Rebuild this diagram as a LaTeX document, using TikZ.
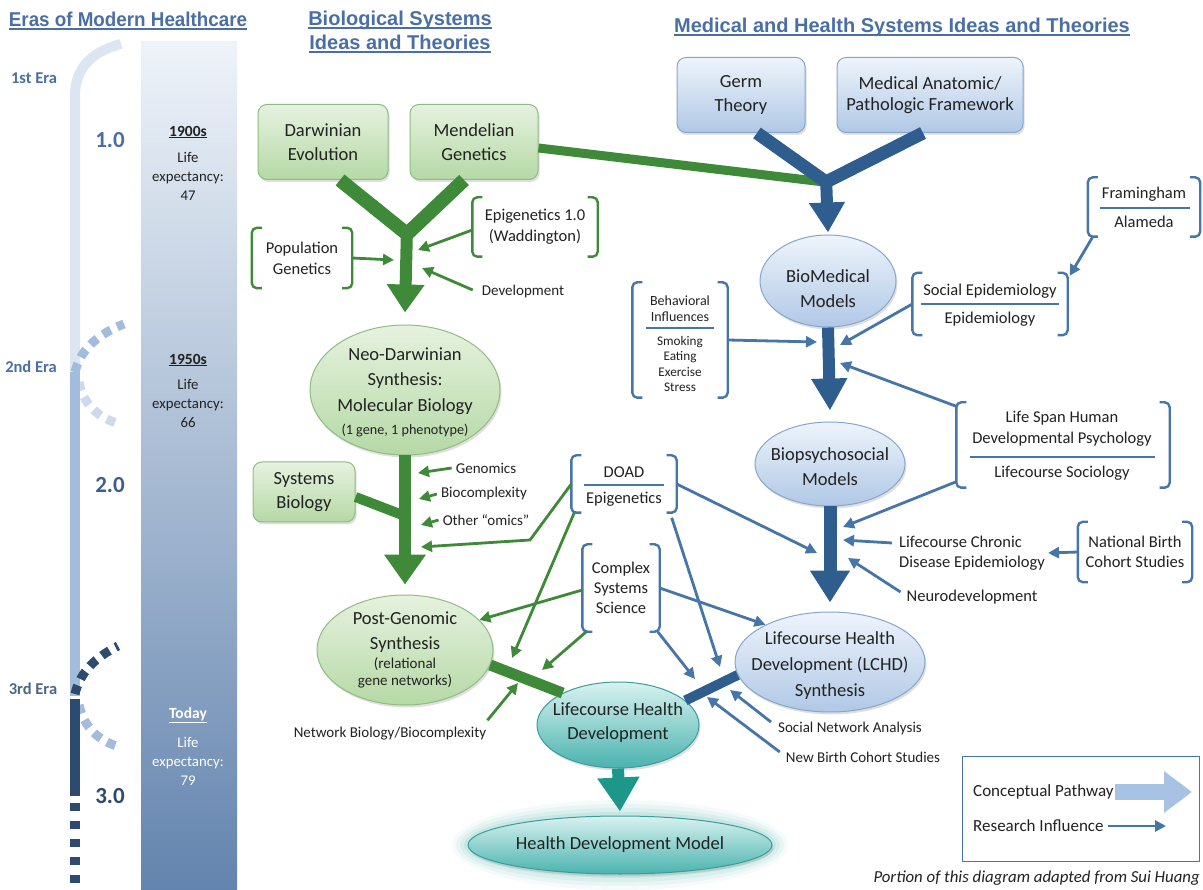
\documentclass[tikz,border=0pt]{standalone}
\usepackage{fontspec}
\setmainfont{Carlito}
\newfontfamily\hfont{Liberation Sans}
\usetikzlibrary{arrows.meta,shapes.geometric,shadows}
\definecolor{txt}{HTML}{222222}
\definecolor{hdr}{HTML}{4A6FA5}
\definecolor{gA}{HTML}{3E8A38}
\definecolor{gT}{HTML}{E6F2DF}
\definecolor{gB}{HTML}{B5D9A5}
\definecolor{gD}{HTML}{8FBC82}
\definecolor{bT}{HTML}{EEF4FB}
\definecolor{bB}{HTML}{B0C8E6}
\definecolor{bD}{HTML}{86A6CE}
\definecolor{bA}{HTML}{2E5D8E}
\definecolor{bL}{HTML}{4676A8}
\definecolor{tT}{HTML}{D8F2F0}
\definecolor{tB}{HTML}{4AB3AE}
\definecolor{tD}{HTML}{3B9D99}
\definecolor{tA}{HTML}{1E978B}
\definecolor{eraA}{HTML}{DCE6F2}
\definecolor{eraB}{HTML}{A3BCDD}
\definecolor{eraL}{HTML}{CCDAEC}
\definecolor{eraC}{HTML}{2D4B6E}
\definecolor{colT}{HTML}{EEF3F9}
\definecolor{colM}{HTML}{B3C6DE}
\definecolor{colB}{HTML}{6384AE}
\definecolor{legA}{HTML}{A8C2E3}
\newcommand{\bracketpair}[2]{%
  \draw[#2, line width=2.4pt, rounded corners=5pt] ([xshift=10pt]#1.north west) -- (#1.north west) -- (#1.south west) -- ([xshift=10pt]#1.south west);
  \draw[#2, line width=2.4pt, rounded corners=5pt] ([xshift=-10pt]#1.north east) -- (#1.north east) -- (#1.south east) -- ([xshift=-10pt]#1.south east);}
\tikzset{
  fbig/.style={font=\fontsize{18.5}{24}\selectfont},
  fmed/.style={font=\fontsize{16.5}{21}\selectfont},
  fsm/.style={font=\fontsize{15}{18}\selectfont},
  ftiny/.style={font=\fontsize{13.2}{15.3}\selectfont},
  lbl/.style={text=txt, align=center, inner sep=1pt},
  shad/.style={drop shadow={opacity=0.25, shadow xshift=1.5pt, shadow yshift=-2.5pt}},
  gbox/.style={rectangle, rounded corners=9pt, draw=gD, line width=1pt, top color=gT, bottom color=gB, shad, fbig, lbl},
  bbox/.style={rectangle, rounded corners=9pt, draw=bD, line width=1pt, top color=bT, bottom color=bB, shad, fbig, lbl},
  gell/.style={ellipse, draw=gD, line width=1pt, top color=gT, bottom color=gB, shad, inner sep=0pt},
  bell/.style={ellipse, draw=bD, line width=1pt, top color=bT, bottom color=bB, shad, inner sep=0pt},
  tell/.style={ellipse, draw=tD, line width=1pt, top color=tT, bottom color=tB, shad, inner sep=0pt},
  frame/.style={inner sep=0pt, lbl},
  gthick/.style={draw=gA, line width=13pt},
  bthick/.style={draw=bA, line width=12pt},
  gthin/.style={draw=gA, line width=2.8pt, -{Triangle[length=11pt,width=11pt]}},
  bthin/.style={draw=bL, line width=2.8pt, -{Triangle[length=11pt,width=11pt]}},
  hdrs/.style={font=\hfont\bfseries\fontsize{20}{22}\selectfont, text=hdr, inner sep=0pt},
  era/.style={font=\bfseries\fontsize{16.5}{18}\selectfont, text=hdr, inner sep=0pt},
  num/.style={font=\bfseries\fontsize{23}{26}\selectfont, inner sep=0pt},
  colt/.style={font=\fontsize{14.8}{19}\selectfont, text=txt, align=center, inner sep=0pt},
  colh/.style={font=\bfseries\fontsize{15.5}{19}\selectfont, text=txt, align=center, inner sep=0pt},
}
\begin{document}
\begin{tikzpicture}[x=1pt,y=-1pt]
\useasboundingbox (0,0) rectangle (1203,890);
\fill[white] (0,0) rectangle (1203,890);

% ---------- headers ----------
\node[hdrs] (h1) at (128,19) {\scalebox{0.94}[1]{Eras of Modern Healthcare}};
\node[hdrs] (h2) at (400,20) {Biological Systems};
\node[hdrs] (h3) at (400,42) {Ideas and Theories};
\node[hdrs] (h4) at (902,27) {Medical and Health Systems Ideas and Theories};
\foreach \h in {h1,h2,h3,h4}{\draw[hdr, line width=1.8pt] ([yshift=-3pt]\h.base west) -- ([yshift=-3pt]\h.base east);}

% ---------- eras column ----------
\shade[top color=colT, middle color=colM, bottom color=colB] (141,42) rectangle (237,890);
\draw[eraA, line width=10pt] (121,44) .. controls (90,52) and (75,70) .. (75,95) -- (75,372);
\draw[eraB, line width=9pt, dash pattern=on 9pt off 7pt] (75,372) .. controls (80,350) and (98,334) .. (124,324);
\draw[eraL, line width=9pt, dash pattern=on 9pt off 7pt] (79,382) .. controls (83,404) and (98,418) .. (120,424);
\draw[eraB, line width=10pt] (75,372) -- (75,696);
\draw[eraC, line width=9pt, dash pattern=on 9pt off 7pt] (75,694) .. controls (80,672) and (96,657) .. (118,646);
\draw[eraB, line width=9pt, dash pattern=on 9pt off 7pt] (79,705) .. controls (84,727) and (98,741) .. (120,747);
\draw[eraC, line width=10pt] (75,699) -- (75,796);
\draw[eraC, line width=10pt, dash pattern=on 8pt off 10pt] (75,803) -- (75,890);
\node[era] (e1) at (34,78) {1st Era};
\node[era] (e2) at (31,367) {2nd Era};
\node[era, text=eraC!85] (e3) at (33,689) {3rd Era};
\node[num, text=hdr] (n1) at (110,140) {1.0};
\node[num, text=hdr!85!black] (n2) at (110,485) {2.0};
\node[num, text=eraC] (n3) at (110,796) {3.0};
\node[colh] (y1) at (188,132) {\underline{1900s}};
\node[colt] (l1) at (188,176) {Life\\expectancy:\\47};
\node[colh] (y2) at (188,360) {\underline{1950s}};
\node[colt] (l2) at (188,403) {Life\\expectancy:\\66};
\node[colh, text=white] (y3) at (188,715) {\underline{Today}};
\node[colt, text=white] (l3) at (188,761) {Life\\expectancy:\\79};

% ---------- biological nodes ----------
\node[gbox, minimum width=130pt, minimum height=75pt] (darwin) at (323,142) {Darwinian\\Evolution};
\node[gbox, minimum width=128pt, minimum height=75pt] (mendel) at (474,142) {Mendelian\\Genetics};
\node[gbox, minimum width=102pt, minimum height=60pt] (sysbio) at (304,492) {Systems\\Biology};
\node[gell, minimum width=190pt, minimum height=130pt] (neo) at (405,390) {};
\node[lbl, font=\fontsize{18.5}{25.5}\selectfont] (neoT) at (405,381) {Neo-Darwinian\\Synthesis:\\Molecular Biology};
\node[lbl, font=\fontsize{14.2}{16}\selectfont] (neoS) at (405,431) {(1 gene, 1 phenotype)};
\node[gell, minimum width=176pt, minimum height=110pt] (post) at (405,650) {};
\node[lbl, font=\fontsize{18.5}{25}\selectfont] (postT) at (405,632) {Post-Genomic\\Synthesis};
\node[lbl, font=\fontsize{15}{17}\selectfont] (postS) at (405,673) {(relational\\gene networks)};

% green brackets
\node[frame, fmed, minimum width=100pt, minimum height=60pt] (popgen) at (302,258) {Population\\Genetics};
\bracketpair{popgen}{gA}
\node[frame, fmed, minimum width=125pt, minimum height=59pt] (epi1) at (535,227) {Epigenetics 1.0\\(Waddington)};
\bracketpair{epi1}{gA}
\node[lbl, fsm] (dev) at (523,292) {Development};
\node[lbl, fsm] (genom) at (486,468) {Genomics};
\node[lbl, fsm] (bioc) at (484,494) {Biocomplexity};
\node[lbl, fsm] (omics) at (486,520) {Other ``omics''};
\node[lbl, fsm] (netb) at (390,734) {Network Biology/Biocomplexity};

% blue brackets in the middle
\node[frame, minimum width=105pt, minimum height=57pt] (doad) at (624,484) {};
\bracketpair{doad}{bL}
\node[lbl, fmed] (doadA) at (624,472) {DOAD};
\node[lbl, fmed] (doadB) at (624,499) {Epigenetics};
\draw[bL, line width=1.8pt] (584,485) -- (664,485);
\node[frame, font=\fontsize{16.5}{20}\selectfont, minimum width=77pt, minimum height=87pt] (cplx) at (621,588) {Complex\\Systems\\Science};
\bracketpair{cplx}{bL}

% ---------- medical nodes ----------
\node[bbox, minimum width=128pt, minimum height=75pt] (germ) at (741,95) {Germ\\Theory};
\node[bbox, font=\fontsize{18.5}{21}\selectfont, minimum width=186pt, minimum height=75pt] (medic) at (930,95) {Medical Anatomic/\\Pathologic Framework};
\node[bell, minimum width=136pt, minimum height=92pt] (biomed) at (828,281) {};
\node[lbl, font=\fontsize{18.5}{25}\selectfont] (biomedT) at (828,289) {BioMedical\\Models};
\node[bell, minimum width=150pt, minimum height=84pt] (biopsy) at (830,464) {};
\node[lbl, font=\fontsize{18.5}{25}\selectfont] (biopsyT) at (830,467) {Biopsychosocial\\Models};
\node[bell, minimum width=190pt, minimum height=100pt] (lchd) at (830,662) {};
\node[lbl, font=\fontsize{18.5}{26}\selectfont] (lchdT) at (830,666) {Lifecourse Health\\Development (LCHD)\\Synthesis};

\node[frame, minimum width=112pt, minimum height=59pt] (fram) at (1144,207) {};
\bracketpair{fram}{bL}
\node[lbl, fmed] (framA) at (1144,194) {Framingham};
\node[lbl, fmed] (framB) at (1144,222) {Alameda};
\draw[bL, line width=1.8pt] (1100,208) -- (1190,208);

\node[frame, minimum width=155pt, minimum height=62pt] (social) at (990,304) {};
\bracketpair{social}{bL}
\node[lbl, fmed] (socA) at (990,291) {Social Epidemiology};
\node[lbl, fmed] (socB) at (990,319) {Epidemiology};
\draw[bL, line width=1.8pt] (921,304) -- (1059,304);

\node[frame, minimum width=95pt, minimum height=115pt] (behav) at (680,340) {};
\bracketpair{behav}{bL}
\node[lbl, font=\fontsize{14}{16}\selectfont] (behA) at (680,309) {Behavioral\\Influences};
\node[lbl, ftiny] (behB) at (680,364) {Smoking\\Eating\\Exercise\\Stress};
\draw[bL, line width=1.6pt] (646,328) -- (714,328);

\node[frame, minimum width=213pt, minimum height=85pt] (lspan) at (1063,445) {};
\bracketpair{lspan}{bL}
\node[lbl, fmed] (lspanA) at (1062,429) {Life Span Human\\Developmental Psychology};
\node[lbl, fmed] (lspanB) at (1062,473) {Lifecourse Sociology};
\draw[bL, line width=1.8pt] (970,457) -- (1155,457);

\node[frame, font=\fontsize{16.5}{20}\selectfont, minimum width=114pt, minimum height=60pt] (natb) at (1135,552) {National Birth\\Cohort Studies};
\bracketpair{natb}{bL}
\node[lbl, font=\fontsize{16.5}{20}\selectfont, align=left] (lcc) at (972,553) {Lifecourse Chronic\\Disease Epidemiology};
\node[lbl, fmed] (neuro) at (972,597) {Neurodevelopment};
\node[lbl, fsm] (sna) at (850,728) {Social Network Analysis};
\node[lbl, fsm] (nbcs) at (863,757) {New Birth Cohort Studies};

% ---------- lifecourse / health development ----------
\foreach \r/\o in {16/0.05,12/0.07,8/0.09,4/0.12}{\fill[tB, opacity=\o] (620,845) ellipse [x radius=152+\r, y radius=29+\r];}
\node[tell, minimum width=304pt, minimum height=58pt] (hdm) at (620,845) {};
\node[lbl, fbig] (hdmT) at (620,845) {Health Development Model};
\node[tell, minimum width=162pt, minimum height=86pt] (lhd) at (618,725) {};
\node[lbl, font=\fontsize{18.5}{24}\selectfont] (lhdT) at (618,723) {Lifecourse Health\\Development};

% ---------- thick conceptual pathways ----------
\coordinate (J1) at (407,234);
\coordinate (J2) at (826,182);
\draw[gthick, line width=14pt] ([xshift=17pt]darwin.south) -- (J1);
\draw[gthick, line width=14pt] ([xshift=-10pt]mendel.south) -- (J1);
\draw[gthick, line width=12pt, -{Triangle[width=36pt,length=28pt]}] ([yshift=6pt]J1) -- ([yshift=12pt]neo.north);
\draw[gA, line width=9pt] ([yshift=-6pt]mendel.east) -- ([xshift=-2pt]J2);
\draw[bthick, line width=13pt] ([xshift=16pt]germ.south) -- (J2);
\draw[bthick, line width=13pt] ([xshift=-7pt]medic.south) -- (J2);
\draw[bthick, -{Triangle[width=34pt,length=30pt]}] ([yshift=6pt]J2) -- ([yshift=2pt]biomed.north);
\draw[bthick, -{Triangle[width=34pt,length=32pt]}] (biomed.south) -- ([yshift=11pt]biopsy.north);
\draw[bthick, line width=13pt, -{Triangle[width=38pt,length=32pt]}] (biopsy.south) -- ([yshift=9pt]lchd.north);
\draw[gthick, line width=12pt, -{Triangle[width=40pt,length=30pt]}] (neo.south) -- ([yshift=10pt]post.north);
\coordinate (cSB) at (405,516);
\draw[gA, line width=10pt] ([yshift=-5pt]sysbio.east) -- (cSB);
\draw[gA, line width=11pt] (post.-10) -- (lhd.150);
\draw[bA, line width=10pt] (lchd.188) -- (lhd.20);
\draw[tA, line width=12pt, -{Triangle[width=40pt,length=34pt]}] (lhd.south) -- ([yshift=4pt]hdm.north);

% ---------- research influences (green) ----------
\coordinate (cPop) at (394,260);
\coordinate (cEpi) at (418,250);
\coordinate (cDev) at (422,268);
\coordinate (cGen) at (418,473);
\coordinate (cBio) at (419,499);
\coordinate (cOm) at (421,525);
\coordinate (cDo) at (421,547);
\coordinate (cPg) at (512,658);
\coordinate (cCx) at (542,670);
\coordinate (cNet) at (518,683);
\draw[gthin] (popgen.east) -- (cPop);
\draw[gthin] ([yshift=-3pt]epi1.west) -- (cEpi);
\draw[gthin] ([xshift=-8pt,yshift=2pt]dev.west) -- (cDev);
\draw[gthin] ([xshift=-3pt]genom.west) -- (cGen);
\draw[gthin] ([xshift=-3pt]bioc.west) -- (cBio);
\draw[gthin] ([xshift=-3pt]omics.west) -- (cOm);
\draw[gthin] (doad.west) -- (530,540) -- (cDo);
\draw[gthin] ([xshift=3pt]doad.south west) -- (cPg);
\draw[gthin] ([yshift=-2pt]cplx.west) -- (post.22);
\draw[gthin] ([xshift=4pt]cplx.south west) -- (cCx);
\draw[gthin] ([yshift=6pt]netb.north east) -- (cNet);

% ---------- research influences (blue) ----------
\coordinate (cBeh) at (817,342);
\coordinate (cSoc) at (840,345);
\coordinate (cLS1) at (840,363);
\coordinate (cLS2) at (843,527);
\coordinate (cLC) at (843,540);
\coordinate (cNeu) at (848,558);
\coordinate (cD1) at (817,553);
\coordinate (cD2) at (720,667);
\coordinate (cC2) at (695,679);
\coordinate (cSNA) at (730,690);
\coordinate (cNB) at (707,697);
\draw[bthin] ([xshift=5pt]fram.south west) -- ([xshift=2pt,yshift=-3pt]social.north east);
\draw[bthin] (social.west) -- (cSoc);
\draw[bthin] (behav.east) -- (cBeh);
\draw[bthin] ([yshift=-4pt]lspan.north west) -- (cLS1);
\draw[bthin] ([yshift=6pt]lspan.south west) -- (cLS2);
\draw[bthin] ([xshift=-6pt,yshift=10pt]lcc.west) -- (cLC);
\draw[bthin] (natb.west) -- ([xshift=2pt]lcc.east);
\draw[bthin] ([xshift=-5pt,yshift=5pt]neuro.west) -- (cNeu);
\draw[bthin] (doad.east) -- (cD1);
\draw[bthin] ([xshift=-5pt,yshift=-5pt]doad.south east) -- (cD2);
\draw[bthin] (cplx.east) -- (lchd.150);
\draw[bthin] ([xshift=-2pt]cplx.south east) -- (cC2);
\draw[bthin] ([xshift=-6pt,yshift=6pt]sna.west) -- (cSNA);
\draw[bthin] ([xshift=-5pt,yshift=5pt]nbcs.west) -- (cNB);

% ---------- legend ----------
\node[draw=bL, line width=1pt, minimum width=237pt, minimum height=105pt, inner sep=0pt] (legend) at (1081,809) {};
\node[lbl, font=\fontsize{17}{20}\selectfont, anchor=west] (legC) at (972,792) {Conceptual Pathway};
\node[lbl, font=\fontsize{17}{20}\selectfont, anchor=west] (legR) at (972,826) {Research Influence};
\coordinate (legCa) at (1192,792);
\coordinate (legRa) at (1166,826);
\draw[legA, line width=16pt, -{Triangle[width=40pt,length=28pt]}] (legC.east) -- (legCa);
\draw[bthin] ([xshift=3pt]legR.east) -- (legRa);

\node[lbl, font=\itshape\fontsize{16.8}{19}\selectfont, anchor=east] (credit) at (1201,878) {Portion of this diagram adapted from Sui Huang};
\end{tikzpicture}
\end{document}
